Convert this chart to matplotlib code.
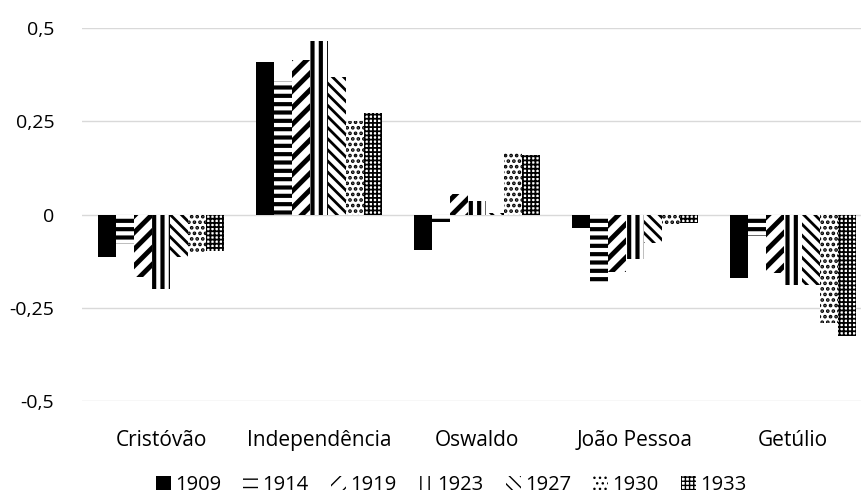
import matplotlib.pyplot as plt
import numpy as np

plt.rcParams['font.family'] = ['Open Sans', 'DejaVu Sans']

bairros = ['Cristóvão', 'Independência', 'Oswaldo', 'João Pessoa', 'Getúlio']
anos = ['1909', '1914', '1919', '1923', '1927', '1930', '1933']

valores = {
    '1909': [-0.115, 0.408, -0.095, -0.037, -0.170],
    '1914': [-0.080, 0.357, -0.020, -0.190, -0.058],
    '1919': [-0.167, 0.415, 0.055, -0.155, -0.157],
    '1923': [-0.200, 0.464, 0.035, -0.120, -0.190],
    '1927': [-0.115, 0.370, 0.005, -0.077, -0.190],
    '1930': [-0.100, 0.252, 0.165, -0.030, -0.290],
    '1933': [-0.097, 0.272, 0.160, -0.022, -0.325],
}

# padrao de preenchimento e espessura do hachurado de cada ano
estilos = {
    '1909': ('', 'black', 1.0),
    '1914': ('--', 'white', 3.0),
    '1919': ('//', 'white', 3.5),
    '1923': ('||', 'white', 3.0),
    '1927': ('\\\\\\', 'white', 2.0),
    '1930': ('...', 'white', 1.8),
    '1933': ('++++', 'white', 1.3),
}

fig = plt.figure(figsize=(8.61, 4.96), dpi=100)
# a area do grafico passa um pouco da borda direita da figura
ax = fig.add_axes([82 / 861, 0.1915, 790 / 861, 0.752])

x = np.arange(len(bairros))
n = len(anos)
largura = 0.8 / n

for i, ano in enumerate(anos):
    hatch, face, lw = estilos[ano]
    with plt.rc_context({'hatch.linewidth': lw}):
        ax.bar(x + (i - (n - 1) / 2) * largura, valores[ano], largura,
               color=face, edgecolor='black', linewidth=0, hatch=hatch,
               label=ano, zorder=3)

ax.set_ylim(-0.5, 0.5)
ax.set_xlim(-0.5, len(bairros) - 0.5)
ax.set_yticks([-0.5, -0.25, 0, 0.25, 0.5])
ax.set_yticklabels(['-0,5', '-0,25', '0', '0,25', '0,5'])
ax.set_xticks(x)
ax.set_xticklabels(bairros)
ax.grid(axis='y', color='#d9d9d9', linewidth=1, zorder=0)
for s in ax.spines.values():
    s.set_visible(False)
ax.tick_params(axis='both', length=0, colors='#000000')
ax.tick_params(axis='x', pad=21, labelsize=15)
ax.tick_params(axis='y', pad=20, labelsize=14)

fig.legend(loc='center', bbox_to_anchor=(451 / 861, 1 - 485 / 496), ncol=7,
           frameon=False, fontsize=14.5, handlelength=0.75, handleheight=0.75,
           handletextpad=0.2, columnspacing=1.1)

plt.savefig('out.png', dpi=100)
